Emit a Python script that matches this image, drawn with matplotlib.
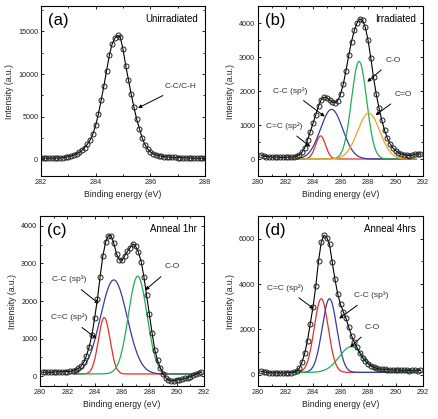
import numpy as np
import matplotlib
matplotlib.use('Agg')
import matplotlib.pyplot as plt
from matplotlib.ticker import MultipleLocator

plt.rcParams['font.family'] = ['Liberation Sans', 'DejaVu Sans']

# ---------------- data ----------------
# (a) Unirradiated, 0.1 eV step 282.0 .. 288.0
be_a = np.round(np.arange(282.0, 288.001, 0.1), 2)
int_a = [100, 100, 100, 100, 100, 100, 115, 130, 160, 210,
         280, 370, 480, 620, 800, 1050, 1350, 1750, 2250, 2950,
         3950, 5300, 6900, 8600, 10400, 12200, 13500, 14200, 14550, 14350,
         12900, 11000, 9300, 7600, 6100, 4700, 3550, 2500, 1700, 1200,
         850, 620, 490, 400, 330, 280, 250, 220, 200, 180,
         160, 150, 140, 130, 120, 110, 100, 100, 90, 90, 90]

# (b)-(d), 0.2 eV step 280.2 .. 291.8
be_bcd = np.round(np.arange(280.2, 291.801, 0.2), 2)
int_b = [120, 90, 70, 60, 60, 55, 55, 50, 50, 50,
         55, 55, 60, 80, 120, 200, 330, 560, 800, 1050,
         1300, 1550, 1750, 1820, 1800, 1740, 1680, 1650, 1720, 1900,
         2200, 2600, 3050, 3450, 3780, 4000, 4120, 4080, 3880, 3500,
         2980, 2400, 1900, 1500, 1150, 850, 620, 450, 330, 250,
         190, 150, 130, 110, 100, 110, 140, 150, 140]
int_c = [100, 110, 100, 105, 110, 110, 115, 120, 120, 125,
         130, 140, 170, 210, 270, 370, 550, 780, 1100, 1550,
         2050, 2650, 3200, 3560, 3740, 3740, 3530, 3250, 3100, 3080,
         3200, 3320, 3420, 3520, 3450, 3300, 3050, 2650, 2150, 1650,
         1150, 700, 420, 230, 60, -40, -100, -130, -120, -100,
         -90, -80, -60, -40, -10, 20, 50, 80, 100]
int_d = [150, 130, 100, 90, 80, 80, 70, 80, 70, 80,
         80, 90, 110, 160, 280, 550, 950, 1500, 2250, 2980,
         3900, 5000, 5850, 6150, 6050, 5750, 4950, 4200, 3550, 3100,
         2780, 2480, 2100, 1720, 1420, 1200, 950, 750, 600, 480,
         400, 330, 290, 260, 240, 230, 220, 210, 210, 200,
         200, 190, 190, 200, 180, 190, 200, 180, 190]

# fitted components: center (eV), height (a.u.), FWHM (eV)
comp_names_b = ['C=C (sp²)', 'C-C (sp³)', 'C-O', 'C=O']
comp_center_b = [284.55, 285.35, 287.35, 288.05]
comp_height_b = [680, 1460, 2870, 1350]
comp_fwhm_b = [0.85, 1.9, 1.3, 1.9]

comp_names_c = ['C=C (sp²)', 'C-C (sp³)', 'C-O']
comp_center_c = [284.7, 285.4, 287.15]
comp_height_c = [1500, 2500, 2600]
comp_fwhm_c = [1.0, 2.3, 1.6]

comp_names_d = ['C=C (sp²)', 'C-C (sp³)', 'C-O']
comp_center_d = [284.6, 285.2, 286.8]
comp_height_d = [3250, 3250, 1140]
comp_fwhm_d = [1.2, 1.25, 2.1]

baseline_b, baseline_c, baseline_d = 0, 60, 100

# ---------------- styling ----------------
COL = {'C=C (sp²)': '#e5302a', 'C-C (sp³)': '#3a3a9e', 'C-O': '#1fae52', 'C=O': '#f5a223'}

fig = plt.figure(figsize=(4.38, 4.19), dpi=100)
W, H = 438, 419


def make_ax(l, t, r, b):
    return fig.add_axes([l / W, 1 - b / H, (r - l) / W, (b - t) / H])


axa = make_ax(41, 6, 205, 176)
axb = make_ax(258, 6, 423, 176)
axc = make_ax(40, 216, 204, 386)
axd = make_ax(258, 216, 423, 386)


def style(ax, xlim, ylim, xmaj, ymaj):
    ax.set_xlim(*xlim)
    ax.set_ylim(*ylim)
    ax.xaxis.set_major_locator(MultipleLocator(xmaj))
    ax.xaxis.set_minor_locator(MultipleLocator(xmaj / 2))
    ax.yaxis.set_major_locator(MultipleLocator(ymaj))
    ax.yaxis.set_minor_locator(MultipleLocator(ymaj / 2))
    ax.tick_params(which='both', direction='in', top=True, right=True,
                   labelsize=5.2, width=0.6, pad=2, labelcolor='#222222')
    ax.tick_params(which='major', length=2.5)
    ax.tick_params(which='minor', length=1.5)
    for s in ax.spines.values():
        s.set_linewidth(0.8)
    ax.set_xlabel('Binding energy (eV)', fontsize=6.2, labelpad=3, color='#222222')
    ax.set_ylabel('Intensity (a.u.)', fontsize=6.2, labelpad=3, color='#222222')


def data(ax, x, y):
    ax.plot(x, y, '-', color='black', lw=0.8, zorder=3)
    ax.plot(x, y, 'o', mfc='none', mec='#222222', ms=3.6, mew=0.7, zorder=4)


def comps(ax, names, cen, hei, fw, base):
    xx = np.linspace(282.5, 291.5, 400)
    for n, c, h, f in zip(names, cen, hei, fw):
        yy = base + h * np.exp(-4 * np.log(2) * (xx - c) ** 2 / f ** 2)
        ax.plot(xx, yy, color=COL[n], lw=0.9, zorder=2)


def note(ax, text, xytext, xy, ha='center'):
    ax.annotate(text, xy=xy, xytext=xytext, fontsize=6, ha=ha, va='center',
                color='#333333',
                arrowprops=dict(arrowstyle='-|>', color='black', lw=0.7,
                                mutation_scale=5, shrinkA=4, shrinkB=0))


def titles(ax, letter, name):
    ax.text(0.045, 0.915, letter, transform=ax.transAxes, fontsize=12,
            ha='left', va='center')
    ax.text(0.955, 0.925, name, transform=ax.transAxes, fontsize=7,
            ha='right', va='center')


# (a)
style(axa, (282, 288), (-2000, 18000), 2, 5000)
data(axa, be_a, int_a)
note(axa, 'C-C/C-H', (287.1, 8500), (285.55, 6000))
titles(axa, '(a)', 'Unirradiated')

# (b)
style(axb, (280, 292), (-500, 4500), 2, 1000)
comps(axb, comp_names_b, comp_center_b, comp_height_b, comp_fwhm_b, baseline_b)
data(axb, be_bcd, int_b)
note(axb, 'C-C (sp³)', (282.35, 2010), (284.85, 1250))
note(axb, 'C=C (sp²)', (281.9, 970), (283.8, 360))
note(axb, 'C-O', (289.8, 2910), (287.95, 2270))
note(axb, 'C=O', (290.6, 1900), (288.55, 1290))
titles(axb, '(b)', 'Irradiated')

# (c)
style(axc, (280, 292), (-260, 4260), 2, 1000)
comps(axc, comp_names_c, comp_center_c, comp_height_c, comp_fwhm_c, baseline_c)
data(axc, be_bcd, int_c)
note(axc, 'C-C (sp³)', (282.1, 2570), (284.3, 1930))
note(axc, 'C=C (sp²)', (282.1, 1560), (284.15, 1000))
note(axc, 'C-O', (289.7, 2910), (287.7, 2290))
titles(axc, '(c)', 'Anneal 1hr')

# (d)
style(axd, (280, 292), (-500, 7000), 2, 2000)
comps(axd, comp_names_d, comp_center_d, comp_height_d, comp_fwhm_d, baseline_d)
data(axd, be_bcd, int_d)
note(axd, 'C=C (sp²)', (282.0, 3830), (284.05, 2910))
note(axd, 'C-C (sp³)', (288.2, 3500), (285.9, 2470))
note(axd, 'C-O', (288.3, 2100), (286.7, 1210))
titles(axd, '(d)', 'Anneal 4hrs')

fig.savefig('out.png', dpi=100)
